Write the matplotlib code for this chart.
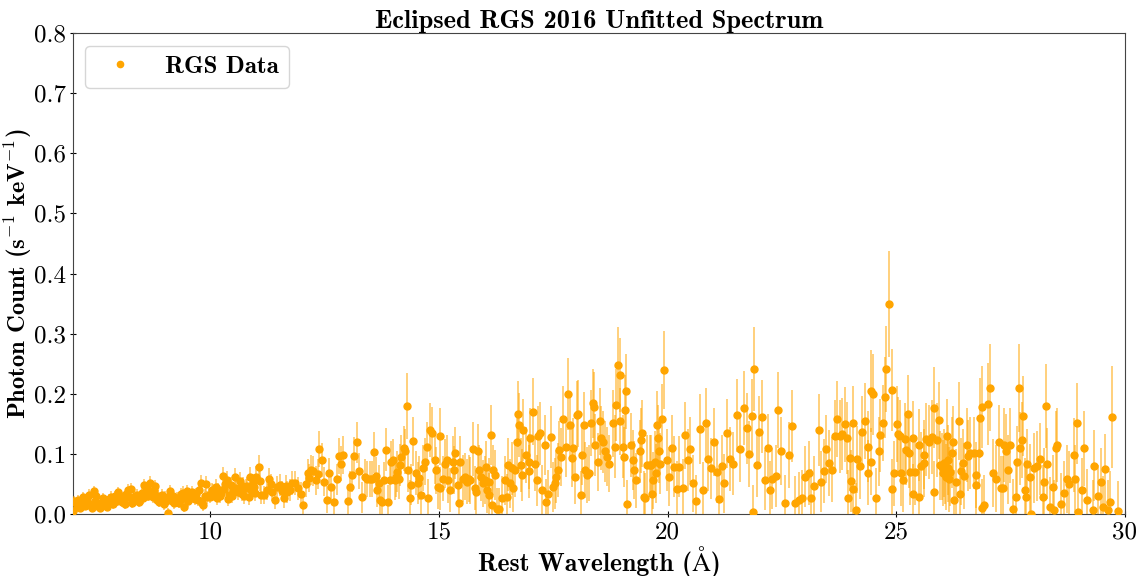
import matplotlib
matplotlib.use('Agg')
import matplotlib.pyplot as plt
from matplotlib.lines import Line2D

# ── Data ──────────────────────────────────────────────────────────────────────
# 7 - 11 A
wl_a = [7.01, 7.03, 7.06, 7.09, 7.12, 7.15, 7.18, 7.21, 7.24, 7.27,
        7.30, 7.33, 7.36, 7.39, 7.42, 7.45, 7.48, 7.51, 7.54, 7.57,
        7.60, 7.63, 7.66, 7.69, 7.72, 7.75, 7.78, 7.81, 7.84, 7.87,
        7.90, 7.93, 7.96, 7.99, 8.02, 8.05, 8.08, 8.11, 8.14, 8.17,
        8.20, 8.23, 8.26, 8.29, 8.32, 8.35, 8.38, 8.41, 8.44, 8.47,
        8.50, 8.53, 8.56, 8.59, 8.62, 8.65, 8.68, 8.71, 8.74, 8.77,
        8.80, 8.83, 8.86, 8.89, 8.92, 8.95, 8.98, 9.01, 9.04, 9.07,
        9.10, 9.13, 9.16, 9.19, 9.22, 9.25, 9.28, 9.31, 9.34, 9.37,
        9.40, 9.43, 9.46, 9.49, 9.52, 9.55, 9.58, 9.61, 9.64, 9.67,
        9.70, 9.73, 9.76, 9.79, 9.82, 9.85, 9.88, 9.91, 9.94, 9.97,
        10.00, 10.03, 10.06, 10.09, 10.12, 10.15, 10.18, 10.21, 10.24, 10.27,
        10.30, 10.33, 10.36, 10.39, 10.42, 10.45, 10.48, 10.51, 10.54, 10.57,
        10.60, 10.63, 10.66, 10.69, 10.72, 10.75, 10.78, 10.81, 10.84, 10.87,
        10.90, 10.93, 10.96, 10.99]
flux_a = [0.005, 0.022, 0.018, 0.012, 0.024, 0.010, 0.020, 0.028, 0.016, 0.014,
          0.025, 0.019, 0.032, 0.013, 0.010, 0.038, 0.022, 0.030, 0.017, 0.012,
          0.010, 0.020, 0.027, 0.015, 0.018, 0.012, 0.025, 0.022, 0.029, 0.016,
          0.023, 0.030, 0.021, 0.036, 0.025, 0.030, 0.020, 0.023, 0.017, 0.033,
          0.040, 0.028, 0.042, 0.018, 0.022, 0.030, 0.026, 0.032, 0.020, 0.029,
          0.035, 0.026, 0.048, 0.038, 0.044, 0.030, 0.052, 0.033, 0.028, 0.040,
          0.046, 0.024, 0.030, 0.020, 0.026, 0.032, 0.016, 0.028, 0.021, 0.002,
          0.029, 0.038, 0.022, 0.030, 0.018, 0.020, 0.026, 0.019, 0.024, 0.033,
          0.035, 0.012, 0.026, 0.038, 0.022, 0.030, 0.027, 0.036, 0.031, 0.025,
          0.033, 0.024, 0.040, 0.052, 0.018, 0.015, 0.030, 0.050, 0.028, 0.032,
          0.029, 0.040, 0.038, 0.034, 0.045, 0.026, 0.040, 0.030, 0.035, 0.064,
          0.042, 0.050, 0.057, 0.025, 0.032, 0.048, 0.030, 0.040, 0.061, 0.044,
          0.036, 0.043, 0.055, 0.034, 0.047, 0.030, 0.044, 0.046, 0.028, 0.062,
          0.040, 0.052, 0.045, 0.035]
err_a = [0.007, 0.008, 0.008, 0.007, 0.008, 0.007, 0.008, 0.008, 0.007, 0.007,
         0.008, 0.008, 0.009, 0.007, 0.007, 0.009, 0.008, 0.008, 0.008, 0.007,
         0.007, 0.008, 0.008, 0.008, 0.008, 0.007, 0.008, 0.008, 0.009, 0.008,
         0.008, 0.009, 0.008, 0.009, 0.008, 0.009, 0.008, 0.008, 0.008, 0.009,
         0.010, 0.009, 0.010, 0.008, 0.008, 0.009, 0.009, 0.009, 0.008, 0.009,
         0.010, 0.009, 0.011, 0.010, 0.010, 0.009, 0.011, 0.010, 0.009, 0.010,
         0.011, 0.009, 0.010, 0.009, 0.009, 0.010, 0.009, 0.010, 0.009, 0.008,
         0.010, 0.011, 0.009, 0.010, 0.009, 0.009, 0.010, 0.009, 0.010, 0.011,
         0.011, 0.009, 0.010, 0.011, 0.010, 0.010, 0.010, 0.011, 0.011, 0.010,
         0.011, 0.010, 0.012, 0.013, 0.010, 0.010, 0.011, 0.013, 0.011, 0.011,
         0.011, 0.012, 0.012, 0.012, 0.013, 0.011, 0.012, 0.011, 0.012, 0.015,
         0.013, 0.014, 0.015, 0.012, 0.012, 0.014, 0.012, 0.013, 0.015, 0.014,
         0.013, 0.014, 0.015, 0.013, 0.014, 0.013, 0.014, 0.015, 0.013, 0.016,
         0.014, 0.015, 0.015, 0.014]

# 11 - 15 A
wl_b = [11.00, 11.06, 11.09, 11.12, 11.18, 11.24, 11.28, 11.32, 11.36, 11.41,
        11.47, 11.53, 11.57, 11.62, 11.65, 11.69, 11.75, 11.80, 11.86, 11.91,
        11.98, 12.03, 12.09, 12.14, 12.17, 12.20, 12.25, 12.31, 12.35, 12.38,
        12.44, 12.49, 12.55, 12.60, 12.65, 12.71, 12.77, 12.82, 12.87, 12.91,
        13.01, 13.05, 13.11, 13.14, 13.20, 13.25, 13.31, 13.38, 13.43, 13.49,
        13.54, 13.58, 13.62, 13.65, 13.69, 13.72, 13.76, 13.80, 13.85, 13.89,
        13.93, 13.96, 14.00, 14.04, 14.07, 14.09, 14.12, 14.14, 14.18, 14.23,
        14.27, 14.30, 14.33, 14.36, 14.39, 14.44, 14.49, 14.54, 14.57, 14.60,
        14.65, 14.69, 14.73, 14.76, 14.81, 14.86, 14.91, 14.94, 14.98, 15.02]
flux_b = [0.062, 0.078, 0.055, 0.031, 0.031, 0.040, 0.059, 0.050, 0.037, 0.023,
          0.045, 0.048, 0.038, 0.026, 0.047, 0.037, 0.040, 0.051, 0.051, 0.043,
          0.034, 0.015, 0.050, 0.068, 0.060, 0.073, 0.072, 0.056, 0.066, 0.108,
          0.090, 0.054, 0.024, 0.068, 0.045, 0.020, 0.058, 0.096, 0.084, 0.098,
          0.022, 0.045, 0.065, 0.096, 0.119, 0.071, 0.028, 0.062, 0.059, 0.059,
          0.059, 0.103, 0.064, 0.040, 0.051, 0.023, 0.020, 0.056, 0.107, 0.020,
          0.056, 0.087, 0.090, 0.056, 0.062, 0.070, 0.058, 0.081, 0.095, 0.109,
          0.104, 0.180, 0.073, 0.026, 0.049, 0.121, 0.068, 0.051, 0.060, 0.031,
          0.076, 0.087, 0.112, 0.026, 0.140, 0.134, 0.090, 0.073, 0.045, 0.043]
err_b = [0.018, 0.020, 0.017, 0.015, 0.015, 0.016, 0.018, 0.017, 0.016, 0.015,
         0.018, 0.018, 0.017, 0.016, 0.018, 0.018, 0.018, 0.020, 0.020, 0.019,
         0.019, 0.018, 0.022, 0.024, 0.023, 0.025, 0.025, 0.024, 0.025, 0.030,
         0.028, 0.024, 0.022, 0.026, 0.024, 0.022, 0.026, 0.030, 0.029, 0.031,
         0.024, 0.027, 0.029, 0.032, 0.034, 0.030, 0.026, 0.030, 0.030, 0.030,
         0.030, 0.034, 0.031, 0.029, 0.030, 0.028, 0.028, 0.031, 0.036, 0.029,
         0.032, 0.035, 0.035, 0.032, 0.033, 0.034, 0.033, 0.035, 0.037, 0.038,
         0.038, 0.055, 0.036, 0.031, 0.034, 0.041, 0.036, 0.035, 0.036, 0.033,
         0.038, 0.039, 0.041, 0.033, 0.045, 0.044, 0.040, 0.039, 0.036, 0.036]

# 15 - 19 A
wl_c = [15.03, 15.08, 15.14, 15.18, 15.20, 15.24, 15.30, 15.34, 15.36, 15.41,
        15.43, 15.47, 15.52, 15.57, 15.61, 15.65, 15.69, 15.74, 15.80, 15.82,
        15.85, 15.87, 15.92, 15.96, 16.00, 16.03, 16.06, 16.09, 16.10, 16.14,
        16.16, 16.19, 16.23, 16.27, 16.32, 16.38, 16.45, 16.48, 16.52, 16.56,
        16.59, 16.63, 16.67, 16.70, 16.74, 16.75, 16.80, 16.81, 16.84, 16.90,
        16.96, 16.98, 17.00, 17.05, 17.10, 17.14, 17.16, 17.21, 17.26, 17.31,
        17.34, 17.39, 17.45, 17.50, 17.54, 17.57, 17.61, 17.63, 17.67, 17.72,
        17.77, 17.83, 17.86, 17.90, 17.94, 17.97, 18.01, 18.05, 18.10, 18.14,
        18.17, 18.19, 18.24, 18.28, 18.32, 18.37, 18.39, 18.42, 18.48, 18.52,
        18.55, 18.59, 18.63, 18.68, 18.72, 18.81, 18.85, 18.88, 18.92, 18.95,
        18.97, 19.02, 19.04, 19.07, 19.09, 19.11]
flux_c = [0.129, 0.059, 0.084, 0.090, 0.056, 0.040, 0.087, 0.073, 0.101, 0.048,
          0.019, 0.087, 0.059, 0.062, 0.054, 0.059, 0.056, 0.108, 0.043, 0.037,
          0.104, 0.073, 0.062, 0.051, 0.056, 0.079, 0.040, 0.031, 0.054, 0.131,
          0.015, 0.073, 0.065, 0.009, 0.009, 0.026, 0.056, 0.029, 0.082, 0.051,
          0.076, 0.043, 0.073, 0.120, 0.166, 0.148, 0.082, 0.065, 0.140, 0.098,
          0.087, 0.071, 0.126, 0.170, 0.084, 0.056, 0.129, 0.134, 0.040, 0.115,
          0.020, 0.034, 0.128, 0.045, 0.051, 0.062, 0.073, 0.106, 0.095, 0.158,
          0.112, 0.200, 0.148, 0.093, 0.109, 0.062, 0.165, 0.167, 0.031, 0.098,
          0.148, 0.073, 0.065, 0.068, 0.151, 0.184, 0.178, 0.115, 0.087, 0.154,
          0.126, 0.120, 0.104, 0.095, 0.084, 0.151, 0.112, 0.181, 0.248, 0.231,
          0.154, 0.112, 0.095, 0.173, 0.204, 0.017]
err_c = [0.047, 0.038, 0.041, 0.042, 0.038, 0.036, 0.042, 0.040, 0.043, 0.037,
         0.034, 0.042, 0.039, 0.039, 0.038, 0.039, 0.039, 0.045, 0.037, 0.037,
         0.045, 0.041, 0.040, 0.039, 0.040, 0.042, 0.038, 0.037, 0.040, 0.050,
         0.035, 0.042, 0.041, 0.034, 0.034, 0.037, 0.041, 0.038, 0.044, 0.041,
         0.044, 0.040, 0.044, 0.050, 0.055, 0.053, 0.045, 0.043, 0.052, 0.047,
         0.046, 0.044, 0.051, 0.056, 0.046, 0.043, 0.051, 0.052, 0.041, 0.050,
         0.039, 0.040, 0.052, 0.042, 0.043, 0.044, 0.045, 0.049, 0.048, 0.055,
         0.050, 0.060, 0.054, 0.048, 0.050, 0.045, 0.056, 0.056, 0.041, 0.049,
         0.055, 0.047, 0.046, 0.046, 0.055, 0.058, 0.058, 0.051, 0.048, 0.056,
         0.053, 0.052, 0.050, 0.049, 0.048, 0.056, 0.052, 0.060, 0.063, 0.062,
         0.056, 0.052, 0.050, 0.059, 0.062, 0.040]

# 19 - 23 A
wl_d = [19.19, 19.24, 19.26, 19.32, 19.39, 19.41, 19.44, 19.48, 19.51, 19.56,
        19.61, 19.64, 19.67, 19.69, 19.72, 19.74, 19.77, 19.79, 19.82, 19.84,
        19.88, 19.92, 19.98, 20.04, 20.09, 20.15, 20.20, 20.26, 20.33, 20.38,
        20.44, 20.50, 20.55, 20.62, 20.72, 20.77, 20.83, 20.89, 20.95, 21.01,
        21.07, 21.13, 21.19, 21.24, 21.31, 21.37, 21.44, 21.51, 21.58, 21.68,
        21.73, 21.79, 21.84, 21.87, 21.89, 21.95, 22.00, 22.06, 22.13, 22.19,
        22.24, 22.29, 22.37, 22.42, 22.48, 22.56, 22.66, 22.71, 22.79, 22.88,
        22.95, 23.00]
flux_d = [0.115, 0.090, 0.073, 0.056, 0.104, 0.123, 0.134, 0.029, 0.026, 0.081,
          0.081, 0.081, 0.034, 0.056, 0.087, 0.068, 0.148, 0.126, 0.104, 0.084,
          0.158, 0.240, 0.090, 0.062, 0.110, 0.079, 0.042, 0.079, 0.044, 0.131,
          0.090, 0.108, 0.051, 0.021, 0.141, 0.040, 0.151, 0.091, 0.076, 0.120,
          0.070, 0.025, 0.080, 0.051, 0.134, 0.091, 0.084, 0.164, 0.108, 0.176,
          0.143, 0.100, 0.163, 0.003, 0.241, 0.081, 0.137, 0.162, 0.056, 0.110,
          0.040, 0.059, 0.063, 0.173, 0.105, 0.019, 0.098, 0.147, 0.018, 0.023,
          0.027, 0.062]
err_d = [0.053, 0.050, 0.048, 0.046, 0.052, 0.054, 0.055, 0.043, 0.043, 0.050,
         0.050, 0.050, 0.044, 0.047, 0.051, 0.049, 0.057, 0.055, 0.053, 0.051,
         0.058, 0.065, 0.052, 0.049, 0.054, 0.051, 0.046, 0.051, 0.047, 0.056,
         0.052, 0.054, 0.048, 0.044, 0.058, 0.047, 0.059, 0.053, 0.051, 0.056,
         0.051, 0.045, 0.052, 0.049, 0.058, 0.053, 0.053, 0.061, 0.055, 0.062,
         0.059, 0.055, 0.061, 0.045, 0.070, 0.053, 0.059, 0.061, 0.050, 0.056,
         0.048, 0.050, 0.051, 0.063, 0.056, 0.046, 0.055, 0.060, 0.046, 0.047,
         0.047, 0.051]

# 23 - 27 A
wl_e = [23.09, 23.14, 23.20, 23.30, 23.35, 23.41, 23.47, 23.53, 23.59, 23.65,
        23.71, 23.77, 23.82, 23.88, 23.93, 23.94, 23.99, 24.00, 24.05, 24.06,
        24.11, 24.15, 24.20, 24.26, 24.31, 24.38, 24.39, 24.44, 24.45, 24.50,
        24.55, 24.62, 24.65, 24.71, 24.76, 24.77, 24.84, 24.90, 24.91, 24.95,
        25.02, 25.03, 25.09, 25.10, 25.15, 25.20, 25.21, 25.26, 25.27, 25.31,
        25.36, 25.37, 25.42, 25.49, 25.50, 25.54, 25.60, 25.61, 25.66, 25.72,
        25.78, 25.82, 25.83, 25.88, 25.93, 25.96, 26.00, 26.03, 26.05, 26.07,
        26.09, 26.11, 26.13, 26.14, 26.16, 26.18, 26.22, 26.25, 26.26, 26.31,
        26.38, 26.39, 26.41, 26.46, 26.48, 26.54, 26.56, 26.62, 26.69, 26.74,
        26.75, 26.80, 26.82, 26.87, 26.88, 26.92]
flux_e = [0.068, 0.027, 0.047, 0.140, 0.054, 0.072, 0.108, 0.085, 0.074, 0.129,
          0.158, 0.129, 0.133, 0.149, 0.127, 0.026, 0.094, 0.055, 0.151, 0.042,
          0.006, 0.091, 0.080, 0.136, 0.155, 0.112, 0.069, 0.204, 0.087, 0.199,
          0.027, 0.104, 0.131, 0.152, 0.194, 0.241, 0.350, 0.206, 0.041, 0.068,
          0.150, 0.133, 0.129, 0.068, 0.056, 0.124, 0.107, 0.166, 0.102, 0.070,
          0.127, 0.034, 0.070, 0.115, 0.028, 0.080, 0.099, 0.085, 0.124, 0.120,
          0.128, 0.037, 0.177, 0.123, 0.156, 0.081, 0.079, 0.068, 0.085, 0.073,
          0.062, 0.129, 0.090, 0.076, 0.058, 0.070, 0.102, 0.119, 0.023, 0.054,
          0.155, 0.034, 0.071, 0.085, 0.063, 0.115, 0.097, 0.102, 0.102, 0.065,
          0.048, 0.102, 0.160, 0.178, 0.010, 0.015]
err_e = [0.053, 0.048, 0.050, 0.060, 0.051, 0.053, 0.057, 0.055, 0.054, 0.060,
         0.063, 0.060, 0.060, 0.062, 0.060, 0.048, 0.056, 0.052, 0.062, 0.050,
         0.046, 0.056, 0.055, 0.061, 0.063, 0.059, 0.054, 0.068, 0.056, 0.067,
         0.049, 0.058, 0.061, 0.063, 0.067, 0.072, 0.088, 0.068, 0.050, 0.054,
         0.063, 0.061, 0.061, 0.054, 0.053, 0.060, 0.058, 0.065, 0.058, 0.055,
         0.061, 0.050, 0.055, 0.060, 0.050, 0.056, 0.058, 0.057, 0.061, 0.061,
         0.062, 0.051, 0.067, 0.061, 0.064, 0.057, 0.056, 0.055, 0.057, 0.056,
         0.055, 0.062, 0.058, 0.056, 0.054, 0.056, 0.059, 0.061, 0.050, 0.054,
         0.065, 0.051, 0.056, 0.057, 0.055, 0.061, 0.059, 0.060, 0.060, 0.055,
         0.053, 0.060, 0.066, 0.068, 0.049, 0.050]

# 27 - 30 A
wl_f = [27.00, 27.05, 27.11, 27.18, 27.25, 27.29, 27.34, 27.36, 27.40, 27.44,
        27.49, 27.56, 27.62, 27.63, 27.68, 27.70, 27.74, 27.76, 27.81, 27.83,
        27.86, 27.92, 27.95, 28.01, 28.08, 28.14, 28.20, 28.23, 28.28, 28.30,
        28.36, 28.43, 28.45, 28.50, 28.52, 28.61, 28.66, 28.74, 28.77, 28.89,
        28.90, 28.96, 28.98, 29.05, 29.11, 29.18, 29.30, 29.32, 29.40, 29.48,
        29.52, 29.57, 29.63, 29.68, 29.72, 29.85]
flux_f = [0.183, 0.210, 0.068, 0.059, 0.120, 0.044, 0.044, 0.115, 0.105, 0.074,
          0.114, 0.008, 0.029, 0.087, 0.209, 0.109, 0.123, 0.163, 0.040, 0.029,
          0.083, 0.061, 0.000, 0.077, 0.080, 0.091, 0.029, 0.054, 0.179, 0.084,
          0.012, 0.045, 0.007, 0.109, 0.115, 0.017, 0.035, 0.058, 0.050, 0.098,
          0.058, 0.151, 0.004, 0.040, 0.109, 0.023, 0.007, 0.080, 0.030, 0.054,
          0.012, 0.075, 0.007, 0.020, 0.162, 0.005]
err_f = [0.069, 0.072, 0.056, 0.055, 0.062, 0.053, 0.053, 0.062, 0.061, 0.057,
         0.062, 0.050, 0.052, 0.059, 0.073, 0.061, 0.063, 0.067, 0.053, 0.052,
         0.058, 0.056, 0.055, 0.058, 0.058, 0.060, 0.052, 0.055, 0.070, 0.059,
         0.050, 0.054, 0.050, 0.062, 0.062, 0.051, 0.053, 0.056, 0.055, 0.061,
         0.056, 0.067, 0.050, 0.053, 0.062, 0.052, 0.050, 0.059, 0.052, 0.056,
         0.051, 0.058, 0.050, 0.051, 0.085, 0.050]

wavelength = wl_a + wl_b + wl_c + wl_d + wl_e + wl_f
flux = flux_a + flux_b + flux_c + flux_d + flux_e + flux_f
flux_err = err_a + err_b + err_c + err_d + err_e + err_f
assert len(wavelength) == len(flux) == len(flux_err)

# ── Style ─────────────────────────────────────────────────────────────────────
plt.rcParams['font.family'] = ['cmr10', 'STIXGeneral']
plt.rcParams['mathtext.fontset'] = 'cm'
plt.rcParams['axes.unicode_minus'] = False
BOLD = ['cmb10', 'STIXGeneral']

# ── Plot ──────────────────────────────────────────────────────────────────────
fig = plt.figure(figsize=(11.45, 5.76), dpi=100)
ax = fig.add_axes([0.0637, 0.1076, 0.9188, 0.835])

ax.errorbar(wavelength, flux, yerr=flux_err, fmt='o', color='orange', ms=5,
            ecolor=(1.0, 0.647, 0.0, 0.65), elinewidth=1.1, zorder=3)

ax.set_xlim(7, 30)
ax.set_ylim(0, 0.8)
ax.set_xticks([10, 15, 20, 25, 30])
ax.set_yticks([0.0, 0.1, 0.2, 0.3, 0.4, 0.5, 0.6, 0.7, 0.8])
ax.set_yticklabels([f'{v:.1f}' for v in ax.get_yticks()])
ax.tick_params(direction='inout', length=5, width=0.8, labelsize=18, pad=2.5)
for s in ax.spines.values():
    s.set_color('#444444')

ax.set_title('Eclipsed RGS 2016 Unfitted Spectrum', pad=4, family=BOLD, size=19)
ax.set_xlabel('Rest Wavelength (Å)', family=BOLD, size=18.5)
ax.xaxis.set_label_coords(0.5, -0.066)
ax.set_ylabel(r'Photon Count (s$^{-1}$ keV$^{-1}$)', family=BOLD, size=17.7)
ax.yaxis.set_label_coords(-0.037, 0.5)

handle = Line2D([], [], marker='o', ls='', color='orange', ms=4.5)
ax.legend([handle], ['RGS Data'], loc='upper left',
          prop=dict(family=BOLD, size=18))

fig.savefig('out.png', dpi=100)
